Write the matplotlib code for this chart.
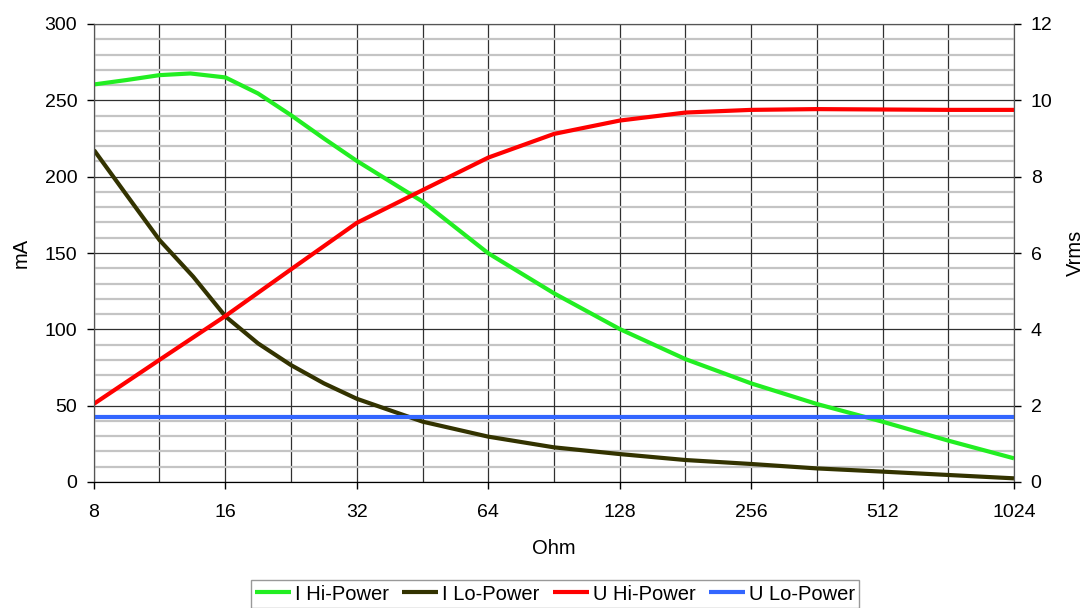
import matplotlib
matplotlib.use("Agg")
import matplotlib.pyplot as plt
from matplotlib.ticker import FixedLocator, FixedFormatter, MultipleLocator

plt.rcParams['font.family'] = ['Liberation Sans', 'DejaVu Sans']

# load resistance in Ohm, read at the grid lines (finer at the low end)
ohm_ihi = [8, 9.5, 11.3, 13.3, 16, 19, 22.6, 26.9, 32, 45.3, 64, 90.5, 128,
           181, 256, 362, 512, 724, 1024]
ohm_ilo = [8, 9.5, 11.3, 13.5, 16, 19, 22.6, 26.9, 32, 45.3, 64, 90.5, 128,
           181, 256, 362, 512, 724, 1024]
ohm = [8, 11.3, 16, 22.6, 32, 45.3, 64, 90.5, 128, 181, 256, 362, 512, 724, 1024]

# currents in mA (left axis)
i_hi = [260.4, 263.3, 266.5, 267.6, 265.0, 254.5, 240.3, 225.0, 210.3, 183.6,
        149.8, 123.6, 100.2, 80.5, 64.6, 51.1, 39.5, 27.1, 15.5]
i_lo = [217.4, 188.0, 158.5, 134.5, 108.5, 90.8, 76.6, 64.6, 54.5, 39.5,
        29.7, 22.7, 18.3, 14.4, 11.8, 8.9, 6.8, 4.6, 2.4]

# voltages in Vrms (right axis)
u_hi = [2.05, 3.2, 4.35, 5.57, 6.79, 7.65, 8.5, 9.12, 9.47, 9.68,
        9.75, 9.77, 9.76, 9.75, 9.75]
u_lo = [1.71] * len(ohm)

x_ticks = [8, 16, 32, 64, 128, 256, 512, 1024]
x_grid = [11.3, 22.6, 45.3, 90.5, 181, 362, 724]
labels = ["I Hi-Power", "I Lo-Power", "U Hi-Power", "U Lo-Power"]

fig = plt.figure(figsize=(10.92, 6.08), dpi=100)
ax = fig.add_axes([94 / 1092, 1 - 482 / 608, 920 / 1092, 458 / 608])
ax2 = ax.twinx()

# grid
ax.set_axisbelow(True)
ax.set_xscale('log', base=2)
ax.set_xlim(8, 1024)
ax.set_ylim(0, 300)
ax.xaxis.set_major_locator(FixedLocator(x_ticks))
ax.xaxis.set_major_formatter(FixedFormatter([str(v) for v in x_ticks]))
ax.xaxis.set_minor_locator(FixedLocator(x_grid))
ax.xaxis.set_minor_formatter(FixedFormatter([""] * len(x_grid)))
ax.yaxis.set_major_locator(MultipleLocator(50))
ax.yaxis.set_minor_locator(MultipleLocator(10))
ax.grid(which='minor', axis='y', color='#c4c4c4', linewidth=1.6)
ax.grid(which='major', axis='y', color='#303030', linewidth=0.9)
ax.grid(which='both', axis='x', color='#303030', linewidth=0.9)

ax.tick_params(which='major', direction='out', length=5, width=1, labelsize=14, pad=7)
ax.tick_params(which='minor', length=0)
ax.tick_params(axis='x', pad=11)

# lines
style = dict(linewidth=3, solid_capstyle='butt', solid_joinstyle='round')
l1, = ax.plot(ohm_ihi, i_hi, color='#22ee22', **style)
l2, = ax.plot(ohm_ilo, i_lo, color='#333300', **style)
l3, = ax2.plot(ohm, u_hi, color='#ff0000', **style)
l4, = ax2.plot(ohm, u_lo, color='#3366ff', **style)

ax2.set_ylim(0, 12)
ax2.yaxis.set_major_locator(MultipleLocator(2))
ax2.tick_params(direction='out', length=5, width=1, labelsize=14, pad=7)

for a in (ax, ax2):
    for side in ('left', 'right', 'top'):
        a.spines[side].set_color('#555555')
    a.spines['bottom'].set_color('black')

ax.set_xlabel("Ohm", fontsize=14.5, labelpad=13)
ax.set_ylabel("mA", fontsize=14.5, labelpad=10)
ax2.set_ylabel("Vrms", fontsize=14.5, labelpad=10)

fig.legend([l1, l2, l3, l4], labels, loc='center', ncol=4,
           bbox_to_anchor=(555 / 1092, 1 - 594 / 608), fontsize=14.5,
           frameon=True, fancybox=False, edgecolor='#808080',
           handlelength=1.8, handletextpad=0.2, columnspacing=0.65,
           borderpad=0.2, borderaxespad=0)

fig.savefig("out.png", dpi=100)
